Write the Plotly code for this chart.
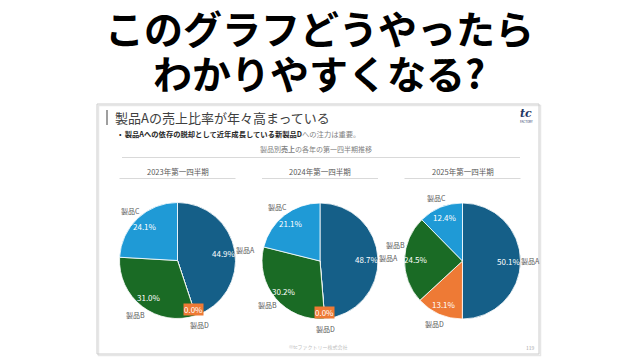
import math
import plotly.graph_objects as go

W, H = 638, 359

# ---- data ----
years = ["2023年第一四半期", "2024年第一四半期", "2025年第一四半期"]
products = ["製品A", "製品D", "製品B", "製品C"]   # clockwise order from 12 o'clock
share_A = [44.9, 48.7, 50.1]
share_B = [31.0, 30.2, 24.5]
share_C = [24.1, 21.1, 12.4]
share_D = [0.0, 0.0, 13.1]

colors = {"製品A": "#155f88", "製品B": "#1a6b25", "製品C": "#1f9ad6", "製品D": "#ee7a35"}
FONT = "Noto Sans CJK JP"

# layout (pixel geometry)
centers = [(177.5, 260.5), (320.0, 261.0), (462.5, 261.0)]
R = 58.0
LBL_W, LBL_H = 20.0, 11.0


def px(x):
    return x / W


def py(y):
    return 1 - y / H


fig = go.Figure()
annotations = []
shapes = []
placed = []   # placed outside-label boxes (cx, cy)


def collides(x, y):
    return any(abs(x - a) < LBL_W and abs(y - b) < LBL_H for a, b in placed)


for i, year in enumerate(years):
    cx, cy = centers[i]
    vals = [share_A[i], share_D[i], share_B[i], share_C[i]]
    fig.add_trace(go.Pie(
        labels=products, values=vals, sort=False, direction="clockwise", rotation=0,
        marker=dict(colors=[colors[p] for p in products], line=dict(color="white", width=0.8)),
        textinfo="none", hoverinfo="label+percent", showlegend=False,
        domain=dict(x=[px(cx - R), px(cx + R)], y=[py(cy + R), py(cy - R)]),
    ))
    total = sum(vals)
    cum = 0.0
    for p, v in zip(products, vals):
        mid = (cum + v / 2) / total
        cum += v
        th = 2 * math.pi * mid
        # outside category label (simple collision avoidance: rotate clockwise)
        rl = 1.18 * R
        ang = th
        lx, ly = cx + rl * math.sin(ang), cy - rl * math.cos(ang)
        steps = 0
        while collides(lx, ly) and steps < 60:
            ang += math.radians(2)
            lx, ly = cx + rl * math.sin(ang), cy - rl * math.cos(ang)
            steps += 1
        placed.append((lx, ly))
        annotations.append(dict(
            x=px(lx), y=py(ly), xref="paper", yref="paper",
            text=p, showarrow=False, xanchor="center", yanchor="middle",
            font=dict(family=FONT, size=7, color="#595959")))
        # percent label
        zero = v == 0
        rp = (0.89 if zero else 0.81) * R
        annotations.append(dict(
            x=px(cx + rp * math.sin(th)), y=py(cy - rp * math.cos(th)), xref="paper", yref="paper",
            text=f"{v:.1f}%", showarrow=False, xanchor="center", yanchor="middle",
            bgcolor=colors[p] if zero else None, borderpad=0,
            font=dict(family=FONT, size=8, color="white")))
    # chart title + underline
    annotations.append(dict(
        x=px(cx), y=py(171), xref="paper", yref="paper", text=year, showarrow=False,
        xanchor="center", yanchor="middle", font=dict(family=FONT, size=7.5, color="#595959")))
    shapes.append(dict(type="line", xref="paper", yref="paper", x0=px(cx - R), x1=px(cx + R),
                       y0=py(178.5), y1=py(178.5), line=dict(color="#d9d9d9", width=1)))

# slide frame (shadow + border)
shapes.insert(0, dict(type="rect", xref="paper", yref="paper", x0=px(98.5), x1=px(540.5),
                      y0=py(355.5), y1=py(105.5), line=dict(color="#e6e6e6", width=1.5), layer="below"))
shapes.insert(1, dict(type="rect", xref="paper", yref="paper", x0=px(97), x1=px(539),
                      y0=py(354), y1=py(104), line=dict(color="#cdcdcd", width=1), layer="below"))
# header bar
shapes.append(dict(type="line", xref="paper", yref="paper", x0=px(107), x1=px(107),
                   y0=py(110), y1=py(125), line=dict(color="#7f7f7f", width=1.5)))
# subtitle line
shapes.append(dict(type="line", xref="paper", yref="paper", x0=px(122), x1=px(520),
                   y0=py(157.5), y1=py(157.5), line=dict(color="#d9d9d9", width=1)))

# big title
annotations.append(dict(x=0.5, y=py(27), xref="paper", yref="paper", text="<b>このグラフどうやったら</b>",
                        showarrow=False, xanchor="center", yanchor="middle", height=43, valign="middle",
                        font=dict(family=FONT, size=39, color="black")))
annotations.append(dict(x=0.5, y=py(72), xref="paper", yref="paper", text="<b>わかりやすくなる?</b>",
                        showarrow=False, xanchor="center", yanchor="middle", height=43, valign="middle",
                        font=dict(family=FONT, size=39, color="black")))
# slide title
annotations.append(dict(x=px(113), y=py(117.5), xref="paper", yref="paper",
                        text="製品Aの売上比率が年々高まっている", showarrow=False,
                        xanchor="left", yanchor="middle", font=dict(family=FONT, size=13, color="#404040")))
# bullet
annotations.append(dict(x=px(117), y=py(134), xref="paper", yref="paper",
                        text="•  <b>製品Aへの依存の脱却として近年成長している新製品D</b><span style='color:#7f7f7f'>への注力は重要。</span>",
                        showarrow=False, xanchor="left", yanchor="middle",
                        font=dict(family=FONT, size=7.3, color="#262626")))
# subtitle
annotations.append(dict(x=px(316), y=py(149), xref="paper", yref="paper",
                        text="製品別<b>売上</b>の各年の第一四半期推移", showarrow=False,
                        xanchor="center", yanchor="middle", font=dict(family=FONT, size=7, color="#7f7f7f")))
# logo
annotations.append(dict(x=px(526), y=py(113), xref="paper", yref="paper",
                        text="<b><i>tc</i></b>", showarrow=False, xanchor="center", yanchor="middle",
                        font=dict(family="DejaVu Serif", size=11, color="#1f3864")))
annotations.append(dict(x=px(526), y=py(122), xref="paper", yref="paper",
                        text="FACTORY", showarrow=False, xanchor="center", yanchor="middle",
                        font=dict(family=FONT, size=3, color="#1f3864")))
# footer
annotations.append(dict(x=px(318), y=py(347), xref="paper", yref="paper",
                        text="©tcファクトリー株式会社", showarrow=False, xanchor="center", yanchor="middle",
                        font=dict(family=FONT, size=5, color="#bfbfbf")))
annotations.append(dict(x=px(530), y=py(347), xref="paper", yref="paper",
                        text="119", showarrow=False, xanchor="center", yanchor="middle",
                        font=dict(family=FONT, size=5, color="#a6a6a6")))

fig.update_layout(
    width=W, height=H, margin=dict(l=0, r=0, t=0, b=0),
    paper_bgcolor="white", plot_bgcolor="white",
    annotations=annotations, shapes=shapes, showlegend=False,
)
fig.write_html("out.html", config={"displayModeBar": False},
               post_script="document.body.style.margin='0';document.body.style.overflow='hidden';")
